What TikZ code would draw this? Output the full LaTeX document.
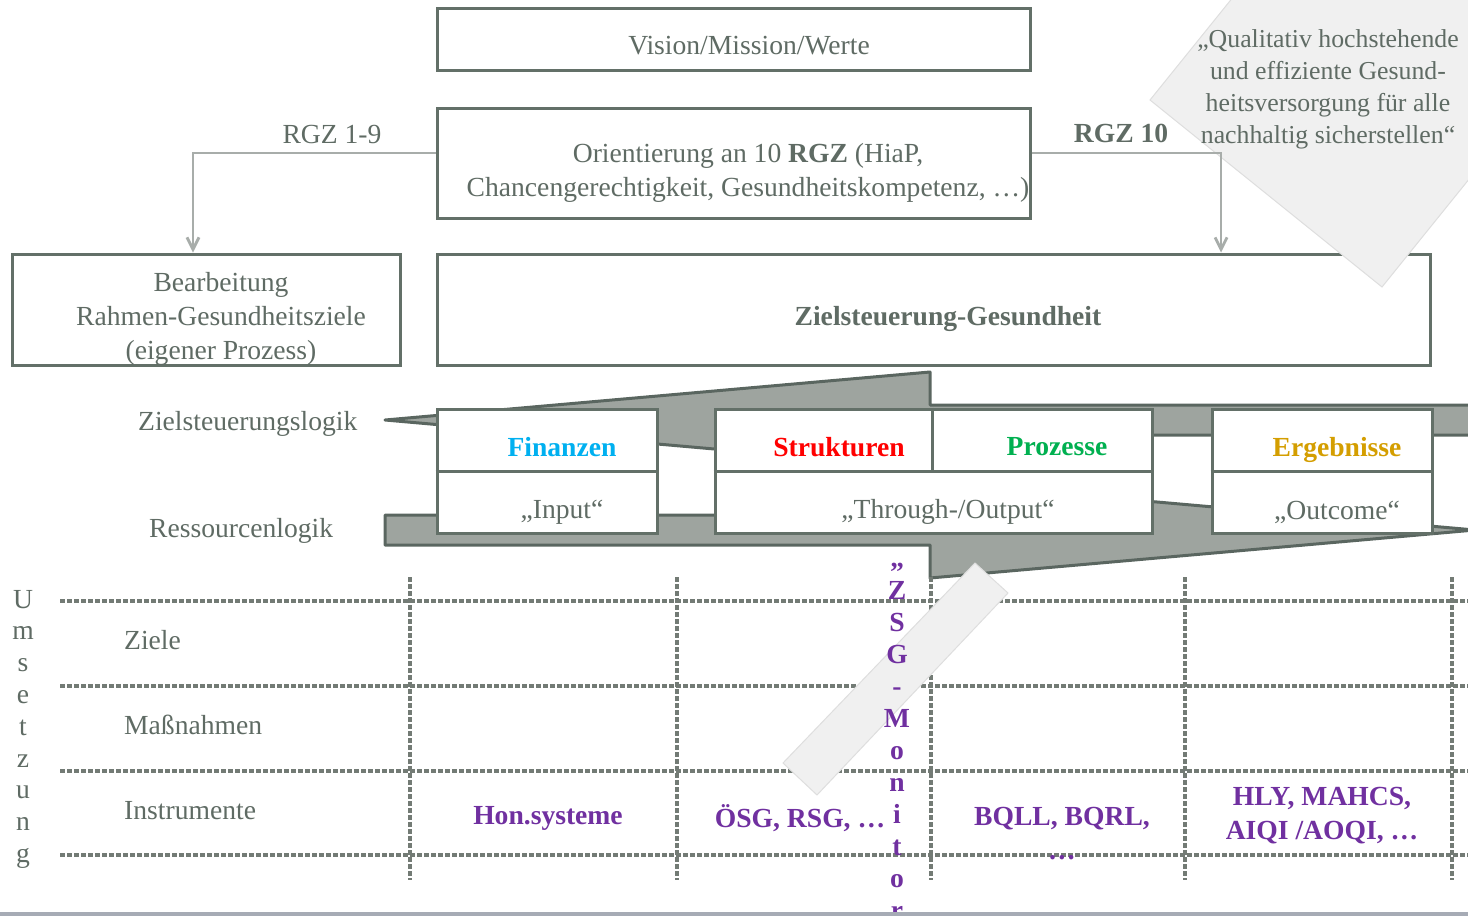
\documentclass[tikz,border=0pt]{standalone}
\usepackage{fontspec}
\setmainfont{Liberation Serif}
\usetikzlibrary{arrows.meta}
\definecolor{boxc}{RGB}{99,112,104}
\definecolor{txtc}{RGB}{95,107,100}
\definecolor{arrfill}{RGB}{158,164,159}
\definecolor{arrline}{RGB}{90,102,96}
\definecolor{conc}{RGB}{168,173,170}
\definecolor{paleg}{RGB}{240,240,240}
\definecolor{paleedge}{RGB}{222,222,222}
\definecolor{purp}{RGB}{112,48,160}
\definecolor{cyanc}{RGB}{0,176,240}
\definecolor{greenc}{RGB}{0,176,80}
\definecolor{goldc}{RGB}{212,158,0}
\definecolor{redc}{RGB}{255,0,0}
\definecolor{dashc}{RGB}{115,123,117}
\definecolor{botc}{RGB}{166,171,181}
\begin{document}
\begin{tikzpicture}[x=1pt,y=-1pt,
  box/.style={draw=boxc,line width=3pt,fill=white,rectangle,inner sep=0pt},
  txt/.style={text=txtc,font=\fontsize{27.6}{34}\selectfont,inner sep=0pt,align=center},
  txtb/.style={txt,font=\fontsize{27.6}{34}\selectfont\bfseries},
  pb/.style={text=purp,font=\fontsize{27.6}{34}\selectfont\bfseries,inner sep=0pt,align=center},
  conn/.style={draw=conc,line width=2.8pt,-{Straight Barb[length=12pt,width=12pt]}},
  bigarrow/.style={draw=arrline,fill=arrfill,line width=3pt,line join=round},
  dgrid/.style={draw=dashc,line width=3.5pt,dash pattern=on 5pt off 2pt},
  pale/.style={fill=paleg,draw=paleedge,line width=1pt}]
\useasboundingbox (0,0) rectangle (1468,916);
\begin{scope}
\clip (0,0) rectangle (1468,916);
% top boxes
\node[box,minimum width=593pt,minimum height=62pt] (vision) at (733.5,39) {};
\node[box,minimum width=593pt,minimum height=110pt] (orient) at (733.5,163) {};
\node[box,minimum width=388pt,minimum height=111pt] (bearb) at (206,309.5) {};
\node[box,minimum width=993pt,minimum height=111pt] (zielg) at (933.5,309.5) {};
\node[txt] (tvision) at (749,46) {Vision/Mission/Werte};
\node[txt] (torient) at (748,173) {Orientierung an 10 \textbf{RGZ} (HiaP,\\Chancengerechtigkeit, Gesundheitskompetenz, …)};
\node[txt] (tbearb) at (221,319) {Bearbeitung\\Rahmen-Gesundheitsziele\\(eigener Prozess)};
\node[txtb] (tzielg) at (948,319) {Zielsteuerung-Gesundheit};
\node[txt] (rgz19) at (332,134) {RGZ 1-9};
\node[txtb] (rgz10) at (1121,133) {RGZ 10};
% pale diamond
\path[pale] (1150,100) -- (1382,287) -- (1633,-24) -- (1401,-211) -- cycle;
\node[txt,font=\fontsize{25.8}{32}\selectfont] (quote) at (1328,89) {„Qualitativ hochstehende\\und effiziente Gesund-\\heitsversorgung für alle\\nachhaltig sicherstellen“};
% connectors
\draw[conn] ([yshift=10pt]orient.west) -| ([xshift=-13pt]bearb.north);
\draw[conn] ([yshift=10pt]orient.east) -| ([xshift=287.5pt]zielg.north);
% big arrows
\path[bigarrow] (385,420) -- (930,372) -- (930,405) -- (1520,405) -- (1520,435) -- (930,435) -- (930,468) -- cycle;
\path[bigarrow] (385,515) -- (930,515) -- (930,482) -- (1475,530) -- (930,578) -- (930,545) -- (385,545) -- cycle;
\node[txt,anchor=west] (zlogik) at (138,424) {Zielsteuerungslogik};
\node[txt,anchor=west] (rlogik) at (149,531) {Ressourcenlogik};
% table boxes
\coordinate (div) at (932,0);
\node[box,minimum width=220pt,minimum height=124pt] (fin) at (547,471) {};
\node[box,minimum width=437pt,minimum height=124pt] (sp) at (933.5,471) {};
\node[box,minimum width=220pt,minimum height=124pt] (erg) at (1322,471) {};
\draw[draw=boxc,line width=3pt] (fin.west) -- (fin.east);
\draw[draw=boxc,line width=3pt] (sp.west) -- (sp.east);
\draw[draw=boxc,line width=3pt] (erg.west) -- (erg.east);
\draw[draw=boxc,line width=3pt] (sp.north -| div) -- (sp.center -| div);
\node[txtb,text=cyanc] (tfin) at (562,447) {Finanzen};
\node[txtb,text=redc] (tstr) at (839,447) {Strukturen};
\node[txtb,text=greenc] (tproz) at (1057,447) {Prozesse};
\node[txtb,text=goldc] (terg) at (1337,450) {Ergebnisse};
\node[txt] (tin) at (562,512) {„Input“};
\node[txt] (tthr) at (948,512) {„Through-/Output“};
\node[txt] (tout) at (1337,512) {„Outcome“};
% grid
\foreach \yy [count=\i] in {601,686,771,855}
  \draw[dgrid] (60,\yy) coordinate (hl\i) -- (1468,\yy) coordinate (hr\i);
\foreach \xx [count=\i] in {410,677,931,1185,1452}
  \draw[dgrid] (\xx,577) coordinate (vt\i) -- (\xx,880) coordinate (vb\i);
\node[txt,anchor=west] (ziele) at (124,640) {Ziele};
\node[txt,anchor=west] (mass) at (124,725) {Maßnahmen};
\node[txt,anchor=west] (instr) at (124,811) {Instrumente};
\foreach \l [count=\i] in {U,m,s,e,t,z,u,n,g}
  \node[txt,anchor=base] (ums\i) at (23,{608+31.8*(\i-1)}) {\l};
\node[pb] (hon) at (548,818) {Hon.systeme};
\node[pb] (osg) at (800,818) {ÖSG, RSG, …};
\node[pb] (bqll) at (1062,819) {BQLL, BQRL,};
\node[pb,anchor=base] (bqdots) at (1062,859) {…};
\node[pb] (hly) at (1322,816) {HLY, MAHCS,\\AIQI /AOQI, …};
% pale band
\path[pale] (975,563) -- (1008,593) -- (817,795) -- (783,763) -- cycle;
% ZSG-Monitor
\node[pb,anchor=base] (zq) at (897,581) {”};
\foreach \l [count=\i] in {Z,S,G,-,M,o,n,i,t,o,r}
  \node[pb,anchor=base] (zsg\i) at (897,{599+32*(\i-1)}) {\l};
% bottom line
\fill[botc] (0,912) rectangle (1468,916);
\end{scope}
\end{tikzpicture}
\end{document}
